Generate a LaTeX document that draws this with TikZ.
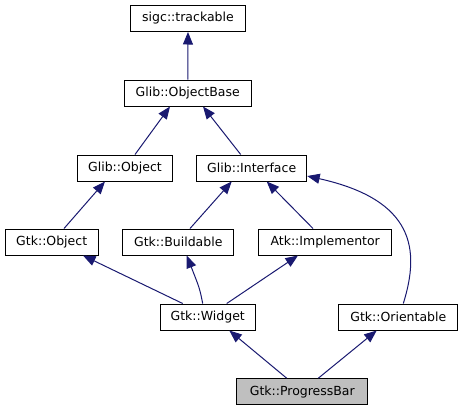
\documentclass[tikz,border=0pt]{standalone}
\usepackage{fontspec}
\setmainfont{DejaVu Sans}
\usetikzlibrary{arrows.meta}
\definecolor{edgeblue}{HTML}{191970}
\definecolor{leafgray}{HTML}{BFBFBF}
\begin{document}
\begin{tikzpicture}[x=1bp,y=-1bp,
  box/.style={draw=black, line width=1bp, fill=white, minimum height=26bp, inner sep=0pt,
    font=\fontsize{12.5bp}{14bp}\selectfont},
  inh/.style={draw=edgeblue, line width=1bp, -{Triangle[length=12.5bp,width=10bp]}}]
\useasboundingbox (0,0) rectangle (463,411);
\node[box, minimum width=115bp]   (track) at (188,18.5) {sigc::trackable};
\node[box, minimum width=126.5bp] (obase) at (187.75,93) {Glib::ObjectBase};
\node[box, minimum width=94.6bp]  (gobj)  at (125,168) {Glib::Object};
\node[box, minimum width=110bp]   (iface) at (251.7,168) {Glib::Interface};
\node[box, minimum width=93.3bp]  (gtkobj) at (51.7,242) {Gtk::Object};
\node[box, minimum width=110.7bp] (build) at (178.3,242) {Gtk::Buildable};
\node[box, minimum width=133bp]   (impl)  at (325.2,242) {Atk::Implementor};
\node[box, minimum width=94.7bp]  (widget) at (207.7,317) {Gtk::Widget};
\node[box, minimum width=118.7bp] (orient) at (398.3,317) {Gtk::Orientable};
\node[box, minimum width=130.7bp, fill=leafgray] (pbar) at (302.3,391.7) {Gtk::ProgressBar};

\draw[inh] (obase.north) -- (track.south);
\draw[inh] ([xshift=10bp]gobj.north) -- ([xshift=-17.75bp]obase.south);
\draw[inh] ([xshift=-11bp]iface.north) -- ([xshift=15.25bp]obase.south);
\draw[inh] ([xshift=12.3bp]gtkobj.north) -- ([xshift=-20bp]gobj.south);
\draw[inh] ([xshift=11.7bp]build.north) -- ([xshift=-20bp]iface.south);
\draw[inh] ([xshift=-12.2bp]impl.north) -- ([xshift=15bp]iface.south);
\draw[inh] ([xshift=-25bp]widget.north) -- ([xshift=31.3bp]gtkobj.south);
\draw[inh] ([xshift=-5bp]widget.north) .. controls ([xshift=-8bp,yshift=15bp]widget.north) .. ([xshift=8.4bp]build.south);
\draw[inh] ([xshift=19bp]widget.north) -- ([xshift=-27.2bp]impl.south);
\draw[inh] ([xshift=-15.6bp]pbar.north) -- ([xshift=21.6bp]widget.south);
\draw[inh] ([xshift=16bp]pbar.north) -- ([xshift=-21.6bp]orient.south);
\draw[inh] ([xshift=5bp]orient.north) .. controls (420,250) and (415,200) .. ([yshift=-8bp]iface.east);
\end{tikzpicture}
\end{document}
